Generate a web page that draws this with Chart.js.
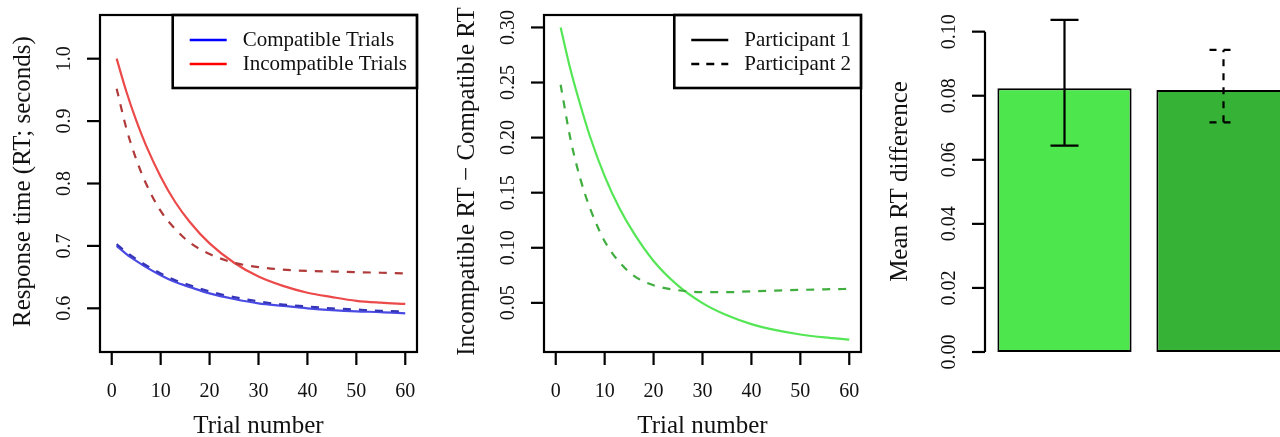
<!DOCTYPE html>
<html>
<head>
<meta charset="utf-8">
<script src="https://cdn.jsdelivr.net/npm/chart.js@4.4.1/dist/chart.umd.min.js"></script>
<style>
  html, body { margin: 0; padding: 0; background: #fff; width: 1280px; height: 437px; overflow: hidden; }
  .panel { position: absolute; top: 0; }
</style>
</head>
<body>
<canvas id="rtChart" class="panel" style="left:0" width="430" height="437"></canvas>
<canvas id="diffChart" class="panel" style="left:430px" width="440" height="437"></canvas>
<canvas id="barChart" class="panel" style="left:860px" width="460" height="437"></canvas>
<script>
// DATOS
const trials = [1, 3, 5, 7, 10, 13, 16, 20, 25, 30, 35, 40, 45, 50, 55, 60];

const compatP1 = [0.700, 0.687, 0.676, 0.666, 0.653, 0.642, 0.634, 0.624, 0.615, 0.608, 0.604, 0.600, 0.597, 0.595, 0.594, 0.592];
const compatP2 = [0.703, 0.690, 0.679, 0.669, 0.656, 0.645, 0.637, 0.627, 0.618, 0.611, 0.606, 0.603, 0.600, 0.598, 0.596, 0.595];
const incompP1 = [1.000, 0.947, 0.901, 0.861, 0.811, 0.770, 0.738, 0.704, 0.673, 0.651, 0.636, 0.625, 0.618, 0.612, 0.609, 0.607];
const incompP2 = [0.952, 0.888, 0.839, 0.800, 0.756, 0.727, 0.705, 0.687, 0.673, 0.666, 0.662, 0.660, 0.659, 0.658, 0.657, 0.656];

const diffP1 = [0.300, 0.262, 0.230, 0.201, 0.165, 0.136, 0.113, 0.088, 0.0656, 0.0498, 0.0387, 0.0307, 0.0252, 0.0213, 0.0186, 0.0167];
const diffP2 = [0.248, 0.199, 0.163, 0.136, 0.106, 0.087, 0.0745, 0.066, 0.0615, 0.0597, 0.0597, 0.0605, 0.0612, 0.0618, 0.0623, 0.0627];

const barLabels = ["Participant 1", "Participant 2"];
const barMeans = [0.0823, 0.0818];
const barLower = [0.0644, 0.0717];
const barUpper = [0.1037, 0.0943];

const xTicks = [0, 10, 20, 30, 40, 50, 60];
const rtTicks = [0.6, 0.7, 0.8, 0.9, 1.0];
const diffTicks = [0.05, 0.10, 0.15, 0.20, 0.25, 0.30];
const barTicks = [0.00, 0.02, 0.04, 0.06, 0.08, 0.10];

const rtLegend = ["Compatible Trials", "Incompatible Trials"];
const diffLegend = ["Participant 1", "Participant 2"];

const FONT = "'Liberation Serif', 'Times New Roman', serif";
const INK = "#111";

function points(values) {
    return trials.map((t, i) => ({ x: t, y: values[i] }));
}

// EJES ESTILO R (caja, marcas, textos)
function rAxes(cfg) {
    return {
        id: "rAxes",
        afterDraw(chart) {
            const ctx = chart.ctx;
            const area = chart.chartArea;
            const ys = chart.scales.y;
            ctx.save();
            ctx.strokeStyle = "#000";
            ctx.fillStyle = INK;
            ctx.lineWidth = 2.2;

            if (cfg.box) {
                ctx.strokeRect(area.left, area.top, area.right - area.left, area.bottom - area.top);
            } else {
                const y0 = ys.getPixelForValue(cfg.yTicks[0]);
                const y1 = ys.getPixelForValue(cfg.yTicks[cfg.yTicks.length - 1]);
                ctx.beginPath();
                ctx.moveTo(area.left, y0);
                ctx.lineTo(area.left, y1);
                ctx.stroke();
            }

            // eje x
            if (cfg.xTicks) {
                const xs = chart.scales.x;
                ctx.font = "20px " + FONT;
                ctx.textAlign = "center";
                ctx.textBaseline = "middle";
                cfg.xTicks.forEach((t) => {
                    const px = xs.getPixelForValue(t);
                    ctx.beginPath();
                    ctx.moveTo(px, area.bottom);
                    ctx.lineTo(px, area.bottom + 13);
                    ctx.stroke();
                    ctx.fillText(String(t), px, area.bottom + 40);
                });
                ctx.font = "25px " + FONT;
                ctx.fillText(cfg.xTitle, (area.left + area.right) / 2, area.bottom + 74);
            }

            // eje y
            ctx.font = "20px " + FONT;
            cfg.yTicks.forEach((v) => {
                const py = ys.getPixelForValue(v);
                ctx.beginPath();
                ctx.moveTo(area.left, py);
                ctx.lineTo(area.left - 13, py);
                ctx.stroke();
                ctx.save();
                ctx.translate(area.left - 35, py);
                ctx.rotate(-Math.PI / 2);
                ctx.textAlign = "center";
                ctx.textBaseline = "middle";
                ctx.fillText(v.toFixed(cfg.decimals), 0, 0);
                ctx.restore();
            });

            ctx.save();
            ctx.translate(cfg.yTitleX, (area.top + area.bottom) / 2 - 2);
            ctx.rotate(-Math.PI / 2);
            ctx.font = "25px " + FONT;
            ctx.textAlign = "center";
            ctx.textBaseline = "middle";
            ctx.fillText(cfg.yTitle, 0, 0);
            ctx.restore();

            // leyenda
            if (cfg.legend) {
                ctx.font = "21px " + FONT;
                const textW = Math.max(...cfg.legend.labels.map((l) => ctx.measureText(l).width));
                const w = 70 + textW + 10;
                const left = area.right - w;
                const top = area.top;
                ctx.lineWidth = 2.6;
                ctx.strokeRect(left, top, w, 73);
                cfg.legend.labels.forEach((label, i) => {
                    const y = top + 25 + i * 24;
                    ctx.beginPath();
                    ctx.strokeStyle = cfg.legend.colors[i];
                    ctx.lineWidth = 2.6;
                    ctx.setLineDash(cfg.legend.dashes[i]);
                    ctx.moveTo(left + 17, y);
                    ctx.lineTo(left + 54, y);
                    ctx.stroke();
                    ctx.setLineDash([]);
                    ctx.fillStyle = INK;
                    ctx.textAlign = "left";
                    ctx.textBaseline = "middle";
                    ctx.fillText(label, left + 70, y);
                });
            }
            ctx.restore();
        }
    };
}

// BARRAS DE ERROR
const errorBars = {
    id: "errorBars",
    afterDatasetsDraw(chart) {
        const ctx = chart.ctx;
        const ys = chart.scales.y;
        const bars = chart.getDatasetMeta(0).data;
        ctx.save();
        ctx.strokeStyle = "#000";
        ctx.lineWidth = 2.2;
        bars.forEach((bar, i) => {
            const top = ys.getPixelForValue(barUpper[i]);
            const bottom = ys.getPixelForValue(barLower[i]);
            ctx.setLineDash(i === 1 ? [7, 7] : []);
            ctx.beginPath();
            ctx.moveTo(bar.x, bottom);
            ctx.lineTo(bar.x, top);
            ctx.moveTo(bar.x - 14, top);
            ctx.lineTo(bar.x + 14, top);
            ctx.moveTo(bar.x - 14, bottom);
            ctx.lineTo(bar.x + 14, bottom);
            ctx.stroke();
        });
        ctx.restore();
    }
};

function lineSet(values, color, dashed) {
    return {
        data: points(values),
        borderColor: color,
        borderWidth: 2.2,
        borderDash: dashed ? [8, 8] : [],
        pointRadius: 0,
        cubicInterpolationMode: "monotone",
        fill: false,
    };
}

const hiddenLinear = (min, max) => ({ type: "linear", min, max, display: false });

// GRÁFICO 1: tiempos de respuesta
new Chart(document.getElementById("rtChart"), {
    type: "line",
    data: {
        datasets: [
            lineSet(compatP2, "#3535b8", true),
            lineSet(incompP2, "#b03a3a", true),
            lineSet(compatP1, "#4a4ae4", false),
            lineSet(incompP1, "#ec4a4a", false),
        ],
    },
    options: {
        responsive: false,
        animation: false,
        layout: { padding: { left: 100, right: 13, top: 15, bottom: 85 } },
        scales: { x: hiddenLinear(-2.4, 62.4), y: hiddenLinear(0.53, 1.07) },
        plugins: { legend: { display: false }, tooltip: { enabled: false } },
    },
    plugins: [rAxes({
        box: true,
        xTicks: xTicks,
        xTitle: "Trial number",
        yTicks: rtTicks,
        decimals: 1,
        yTitle: "Response time (RT; seconds)",
        yTitleX: 23,
        legend: { labels: rtLegend, colors: ["#0000ff", "#ff0000"], dashes: [[], []] },
    })],
});

// GRÁFICO 2: diferencia incompatible - compatible
new Chart(document.getElementById("diffChart"), {
    type: "line",
    data: {
        datasets: [
            lineSet(diffP2, "#3fae3f", true),
            lineSet(diffP1, "#55e655", false),
        ],
    },
    options: {
        responsive: false,
        animation: false,
        layout: { padding: { left: 114, right: 9, top: 15, bottom: 85 } },
        scales: { x: hiddenLinear(-2.4, 62.4), y: hiddenLinear(0.0054, 0.3113) },
        plugins: { legend: { display: false }, tooltip: { enabled: false } },
    },
    plugins: [rAxes({
        box: true,
        xTicks: xTicks,
        xTitle: "Trial number",
        yTicks: diffTicks,
        decimals: 2,
        yTitle: "Incompatible RT \u2212 Compatible RT",
        yTitleX: 37,
        legend: { labels: diffLegend, colors: ["#000", "#000"], dashes: [[], [8, 7]] },
    })],
});

// GRÁFICO 3: media de la diferencia
new Chart(document.getElementById("barChart"), {
    type: "bar",
    data: {
        labels: barLabels,
        datasets: [{
            data: barMeans,
            backgroundColor: ["#4de64d", "#36b336"],
            borderColor: "#000",
            borderWidth: 2,
            borderSkipped: false,
            categoryPercentage: 1,
            barPercentage: 0.844,
        }],
    },
    options: {
        responsive: false,
        animation: false,
        layout: { padding: { left: 125, right: 17, top: 15, bottom: 85 } },
        scales: {
            x: { type: "category", display: false, offset: true },
            y: hiddenLinear(0, 0.1052),
        },
        plugins: { legend: { display: false }, tooltip: { enabled: false } },
    },
    plugins: [errorBars, rAxes({
        box: false,
        yTicks: barTicks,
        decimals: 2,
        yTitle: "Mean RT difference",
        yTitleX: 40,
    })],
});
</script>
</body>
</html>
